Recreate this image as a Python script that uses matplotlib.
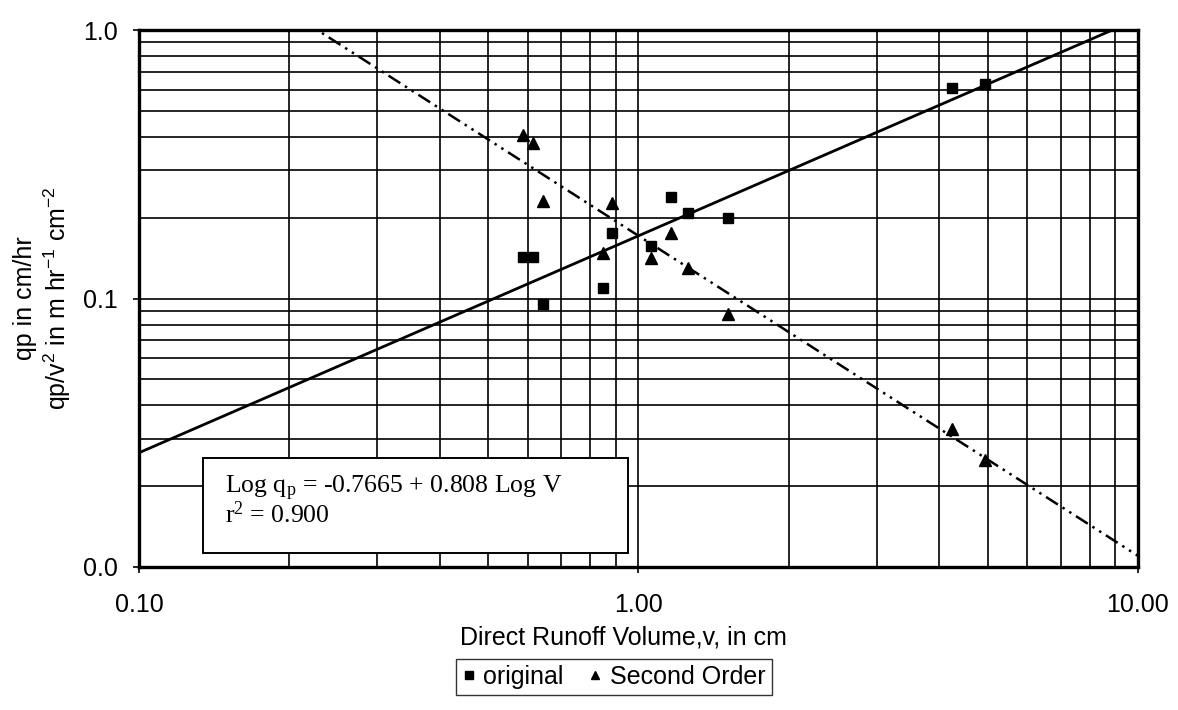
import matplotlib
matplotlib.use("Agg")
import numpy as np
import matplotlib.pyplot as plt
from matplotlib.lines import Line2D
from matplotlib.patches import Rectangle
from matplotlib.ticker import FuncFormatter, LogLocator

plt.rcParams['font.family'] = ['Liberation Sans', 'DejaVu Sans']
plt.rcParams['mathtext.default'] = 'regular'

# ── Data ─────────────────────────────────────────────────────
volume       = [0.586, 0.614, 0.643, 0.851, 0.887, 1.057, 1.164, 1.259, 1.512, 4.25, 4.93]
qp_original  = [0.143, 0.143, 0.0958, 0.109, 0.176, 0.157, 0.239, 0.209, 0.200, 0.609, 0.630]
qp_second    = [0.407, 0.380, 0.231, 0.148, 0.226, 0.142, 0.176, 0.130, 0.0872, 0.0326, 0.0250]

# regression from the annotation box:  Log qp = a + b Log V
fit_a = -0.7665
fit_b = 0.808
fit_b2 = fit_b - 2.0          # qp / V^2 version
fit_x = [0.1, 10.0]

xticks = [0.1, 1.0, 10.0]
yticks = [0.01, 0.1, 1.0]

# ── Figure ───────────────────────────────────────────────────
fig = plt.figure(figsize=(11.78, 7.10), dpi=100, facecolor="white")
ax = fig.add_axes([139/1178, 1 - 567/710, 999/1178, 537/710])
ax.set_xscale("log")
ax.set_yscale("log")
ax.set_xlim(0.1, 10)
ax.set_ylim(0.01, 1.0)

ax.xaxis.set_minor_locator(LogLocator(base=10, subs=np.arange(2, 10)))
ax.yaxis.set_minor_locator(LogLocator(base=10, subs=np.arange(2, 10)))
ax.grid(True, which="both", color="black", linewidth=1.2)
ax.set_axisbelow(True)
ax.set_xticks(xticks)
ax.set_yticks(yticks)
ax.xaxis.set_major_formatter(FuncFormatter(lambda v, p: f"{v:.2f}"))
ax.yaxis.set_major_formatter(FuncFormatter(lambda v, p: f"{v:.1f}"))
ax.tick_params(which="major", direction="out", length=4, width=1.2,
               labelsize=18, color="black")
ax.tick_params(axis="x", pad=15)
ax.tick_params(axis="y", pad=11)
ax.tick_params(which="minor", length=0)
for spine in ax.spines.values():
    spine.set_linewidth(2.4)
    spine.set_color("black")

# fitted lines
fx = np.array(fit_x)
ax.plot(fx, 10 ** (fit_a + fit_b * np.log10(fx)), color="black",
        linewidth=2.0, zorder=3)
ax.plot(fx, 10 ** (fit_a + fit_b2 * np.log10(fx)), color="black",
        linewidth=1.8, dashes=(5.6, 2.2, 1.0, 2.2, 1.0, 2.2), zorder=3)

# data
ax.plot(volume, qp_original, linestyle="none", marker="s", markersize=7.5,
        color="black", zorder=4)
ax.plot(volume, qp_second, linestyle="none", marker="^", markersize=8,
        color="black", zorder=4)

# ── Equation box ─────────────────────────────────────────────
box = Rectangle((0.064, 0.026), 0.4255, 0.177, transform=ax.transAxes,
                facecolor="white", edgecolor="black", linewidth=1.4, zorder=5)
ax.add_patch(box)
serif = ['Liberation Serif', 'DejaVu Serif']
ax.text(0.086, 0.1378, "Log q$_p$ = -0.7665 + 0.808 Log V", transform=ax.transAxes,
        family=serif, fontsize=18.5, va="baseline", ha="left", zorder=6)
ax.text(0.086, 0.0819, "r$^2$ = 0.900", transform=ax.transAxes,
        family=serif, fontsize=18.5, va="baseline", ha="left", zorder=6)

# ── Axis titles ──────────────────────────────────────────────
fig.text(623/1178, 1 - 637/710, "Direct Runoff Volume,v, in cm",
         ha="center", va="center", fontsize=18)
fig.text(43/1178, 1 - 298/710,
         "qp in cm/hr\nqp/v$^2$ in m hr$^{-1}$ cm$^{-2}$",
         ha="center", va="center", rotation=90, fontsize=18,
         multialignment="center", linespacing=1.15)

# ── Legend ───────────────────────────────────────────────────
handles = [
    Line2D([], [], linestyle="none", marker="s", markersize=6, color="black"),
    Line2D([], [], linestyle="none", marker="^", markersize=6, color="black"),
]
leg = fig.legend(handles, ["original", "Second Order"], loc="center",
                 bbox_to_anchor=(614/1178, 1 - 677/710), ncol=2,
                 fontsize=18, frameon=True, fancybox=False, handlelength=0.5,
                 handletextpad=0.35, columnspacing=1.0, borderpad=0.25,
                 borderaxespad=0)
leg.get_frame().set_edgecolor("black")
leg.get_frame().set_linewidth(1.0)

fig.savefig("out.png", dpi=100, facecolor="white")
